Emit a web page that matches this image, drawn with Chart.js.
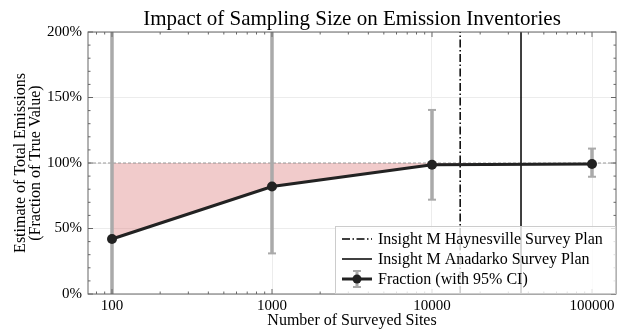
<!DOCTYPE html>
<html>
<head>
<meta charset="utf-8">
<script src="https://cdn.jsdelivr.net/npm/chart.js@4"></script>
<style>
  html, body { margin: 0; padding: 0; background: #fff; }
  #wrap { width: 626px; height: 329px; }
</style>
</head>
<body>
<div id="wrap"><canvas id="chart"></canvas></div>
<script>
/* ── Data ───────────────────────────────────────── */
const sites    = [100, 1000, 10000, 100000];
const fraction = [42, 82, 98.7, 99.2];
const ciLow    = [-20, 31, 72, 89.5];
const ciHigh   = [260, 260, 140.5, 111];

const haynesvilleSites = 15000;
const anadarkoSites    = 36000;
const trueValue        = 100;

const xTicks = [100, 1000, 10000, 100000];
const yTicks = [0, 50, 100, 150, 200];

const legendLabels = [
  'Insight M Haynesville Survey Plan',
  'Insight M Anadarko Survey Plan',
  'Fraction (with 95% CI)',
];

/* ── Styling ─────────────────────────────────────── */
const SERIF   = '"Liberation Serif", "DejaVu Serif", serif';
const SPINE   = '#666';
const ERR     = '#aaaaaa';
const LINE    = '#222';
const DASHDOT = [8, 2.5, 1.5, 2.5];
const yMin = yTicks[0], yMax = yTicks[yTicks.length - 1];

/* ── Custom drawing (title, error bars, frame, ticks, legend) ── */
const decor = {
  id: 'decor',
  beforeDatasetsDraw(chart) {
    const { ctx, chartArea: a, scales: { x, y } } = chart;
    ctx.save();
    ctx.beginPath();
    ctx.rect(a.left, a.top, a.right - a.left, a.bottom - a.top);
    ctx.clip();

    /* dashed reference at 100% */
    const yr = y.getPixelForValue(trueValue);
    ctx.strokeStyle = '#999';
    ctx.lineWidth = 1;
    ctx.setLineDash([3, 2]);
    ctx.beginPath();
    ctx.moveTo(a.left, yr);
    ctx.lineTo(a.right, yr);
    ctx.stroke();
    ctx.setLineDash([]);

    /* error bars */
    ctx.strokeStyle = ERR;
    sites.forEach((s, i) => {
      const px = x.getPixelForValue(s);
      const y1 = y.getPixelForValue(ciHigh[i]);
      const y0 = y.getPixelForValue(ciLow[i]);
      ctx.lineWidth = 3.5;
      ctx.beginPath();
      ctx.moveTo(px, y0);
      ctx.lineTo(px, y1);
      ctx.stroke();
      ctx.lineWidth = 2;
      [y0, y1].forEach(cy => {
        ctx.beginPath();
        ctx.moveTo(px - 4, cy);
        ctx.lineTo(px + 4, cy);
        ctx.stroke();
      });
    });
    ctx.restore();
  },
  afterDraw(chart) {
    const { ctx, chartArea: a, scales: { x, y } } = chart;
    ctx.save();

    /* title */
    ctx.fillStyle = '#000';
    ctx.font = '21px ' + SERIF;
    ctx.textAlign = 'center';
    ctx.textBaseline = 'alphabetic';
    ctx.fillText('Impact of Sampling Size on Emission Inventories', (a.left + a.right) / 2, 24.5);

    /* frame */
    ctx.strokeStyle = SPINE;
    ctx.lineWidth = 1;
    ctx.strokeRect(a.left, a.top, a.right - a.left, a.bottom - a.top);

    /* inward ticks, all four sides */
    const tick = (x0, y0, x1, y1) => { ctx.beginPath(); ctx.moveTo(x0, y0); ctx.lineTo(x1, y1); ctx.stroke(); };
    const xMinor = [];
    for (let d = 10; d <= 1e6; d *= 10) {
      for (let m = 2; m <= 9; m++) {
        const v = d * m;
        if (v > x.min && v < x.max) xMinor.push(v);
      }
    }
    xTicks.forEach(v => {
      const px = x.getPixelForValue(v);
      tick(px, a.bottom, px, a.bottom - 5);
      tick(px, a.top, px, a.top + 5);
    });
    xMinor.forEach(v => {
      const px = x.getPixelForValue(v);
      tick(px, a.bottom, px, a.bottom - 2.5);
      tick(px, a.top, px, a.top + 2.5);
    });
    for (let v = yMin; v <= yMax; v += 10) {
      const py = y.getPixelForValue(v);
      const len = yTicks.includes(v) ? 5 : 2.5;
      tick(a.left, py, a.left + len, py);
      tick(a.right, py, a.right - len, py);
    }

    /* legend */
    const w = 281, h = 68;
    const lx = a.right - w, ly = a.bottom - h;
    ctx.fillStyle = 'rgba(255,255,255,0.8)';
    ctx.fillRect(lx, ly, w, h);
    ctx.strokeStyle = '#cccccc';
    ctx.strokeRect(lx + 0.5, ly + 0.5, w - 1, h - 1);

    const rows = [ly + 13, ly + 33, ly + 53];
    const sx0 = lx + 7, sx1 = lx + 37, sxc = (sx0 + sx1) / 2;
    ctx.strokeStyle = '#000';
    ctx.lineWidth = 1.5;
    ctx.setLineDash(DASHDOT);
    tick(sx0, rows[0], sx1, rows[0]);
    ctx.setLineDash([]);
    tick(sx0, rows[1], sx1, rows[1]);

    ctx.strokeStyle = ERR;
    ctx.lineWidth = 3;
    tick(sxc, rows[2] - 8, sxc, rows[2] + 8);
    ctx.lineWidth = 2;
    tick(sxc - 4, rows[2] - 8, sxc + 4, rows[2] - 8);
    tick(sxc - 4, rows[2] + 8, sxc + 4, rows[2] + 8);
    ctx.strokeStyle = LINE;
    ctx.lineWidth = 3;
    tick(sx0, rows[2], sx1, rows[2]);
    ctx.fillStyle = LINE;
    ctx.beginPath();
    ctx.arc(sxc, rows[2], 4.5, 0, Math.PI * 2);
    ctx.fill();

    ctx.fillStyle = '#000';
    ctx.font = '16px ' + SERIF;
    ctx.textAlign = 'left';
    ctx.textBaseline = 'middle';
    legendLabels.forEach((t, i) => ctx.fillText(t, lx + 43, rows[i] + 1));

    ctx.restore();
  }
};

/* ── Chart ───────────────────────────────────────── */
new Chart(document.getElementById('chart'), {
  type: 'line',
  data: {
    datasets: [
      {
        label: legendLabels[2],
        data: sites.map((s, i) => ({ x: s, y: fraction[i] })),
        borderColor: LINE,
        borderWidth: 3,
        pointRadius: 5,
        pointBackgroundColor: LINE,
        pointBorderColor: LINE,
        pointBorderWidth: 0,
        fill: { value: trueValue },
        backgroundColor: 'rgba(225,140,140,0.45)',
        tension: 0,
      },
      {
        label: legendLabels[0],
        data: [{ x: haynesvilleSites, y: yMin }, { x: haynesvilleSites, y: yMax }],
        borderColor: '#000',
        borderWidth: 1.5,
        borderDash: DASHDOT,
        pointRadius: 0,
        fill: false,
      },
      {
        label: legendLabels[1],
        data: [{ x: anadarkoSites, y: yMin }, { x: anadarkoSites, y: yMax }],
        borderColor: '#000',
        borderWidth: 1.5,
        pointRadius: 0,
        fill: false,
      },
    ]
  },
  options: {
    responsive: true,
    maintainAspectRatio: false,
    animation: false,
    layout: { padding: { top: 32, right: 10, left: 0, bottom: 0 } },
    scales: {
      x: {
        type: 'logarithmic',
        min: Math.pow(10, 1.85),
        max: Math.pow(10, 5.15),
        afterBuildTicks: s => { s.ticks = xTicks.map(v => ({ value: v })); },
        afterFit: s => { s.height = 35; },
        ticks: {
          color: '#000',
          padding: 3,
          maxRotation: 0,
          autoSkip: false,
          font: { family: SERIF, size: 15 },
          callback: v => String(v),
        },
        grid: { color: '#ececec', drawTicks: false },
        border: { display: false },
        title: {
          display: true,
          text: 'Number of Surveyed Sites',
          color: '#000',
          font: { family: SERIF, size: 16, lineHeight: 1.2 },
          padding: { top: 0, bottom: -1 },
        },
      },
      y: {
        min: yMin,
        max: yMax,
        afterBuildTicks: s => { s.ticks = yTicks.map(v => ({ value: v })); },
        afterFit: s => { s.width = 88; },
        ticks: {
          color: '#000',
          padding: 6,
          font: { family: SERIF, size: 15 },
          callback: v => v + '%',
        },
        grid: { color: '#ececec', drawTicks: false },
        border: { display: false },
        title: {
          display: true,
          text: ['Estimate of Total Emissions', '(Fraction of True Value)'],
          color: '#000',
          font: { family: SERIF, size: 16, lineHeight: 0.9 },
          padding: { top: 14, bottom: 0 },
        },
      },
    },
    plugins: {
      legend: { display: false },
      tooltip: { enabled: false },
      filler: { drawTime: 'beforeDatasetsDraw' },
    },
  },
  plugins: [decor],
});
</script>
</body>
</html>
